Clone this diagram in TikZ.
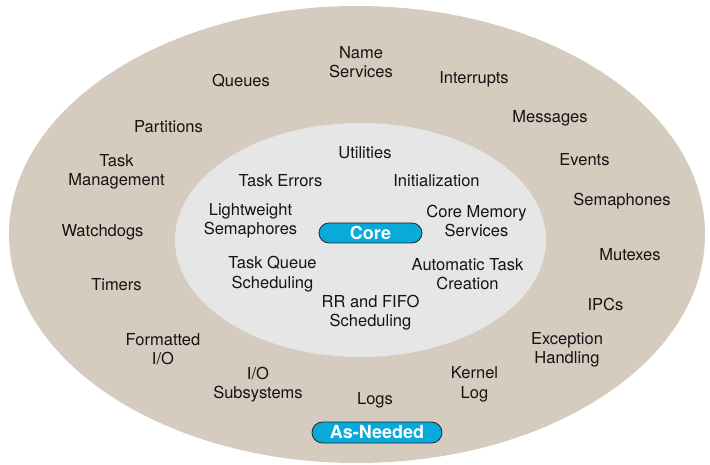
\documentclass[tikz,border=0pt]{standalone}
\usepackage{fontspec}
\setmainfont{TeX Gyre Heros}
\usetikzlibrary{shapes.misc}
\definecolor{outerfill}{RGB}{213,203,191}
\definecolor{innerfill}{RGB}{230,230,230}
\definecolor{pillfill}{RGB}{8,170,218}
\definecolor{txt}{RGB}{20,20,20}
\tikzset{
  lbl/.style={align=center, text=txt, font=\fontsize{16.5}{19.5}\selectfont, inner sep=0pt},
  pill/.style={rounded rectangle, draw=black!85, line width=0.8pt, fill=pillfill, text=white,
     font=\bfseries\fontsize{18}{20}\selectfont, inner sep=0pt, align=center}
}
\begin{document}
\begin{tikzpicture}[x=1pt,y=-1pt]
\useasboundingbox (0,0) rectangle (710,465);
% rings
\fill[outerfill] (357,234.5) ellipse [x radius=348, y radius=228.5];
\fill[innerfill] (360.5,240) ellipse [x radius=185.5, y radius=117];
% outer ring items
\node[lbl] (name) at (361,62) {Name\\Services};
\node[lbl] (queues) at (241,81) {Queues};
\node[lbl] (interrupts) at (474,79) {Interrupts};
\node[lbl] (partitions) at (168.5,127) {Partitions};
\node[lbl] (messages) at (550,118) {Messages};
\node[lbl] (taskmgmt) at (116.5,172) {Task\\Management};
\node[lbl] (events) at (584.5,160) {Events};
\node[lbl] (semaphones) at (622,201) {Semaphones};
\node[lbl] (watchdogs) at (102.5,232) {Watchdogs};
\node[lbl] (mutexes) at (630,255) {Mutexes};
\node[lbl] (timers) at (116.5,285) {Timers};
\node[lbl] (ipcs) at (605.5,304) {IPCs};
\node[lbl] (formatted) at (163,349) {Formatted\\I/O};
\node[lbl] (exception) at (567,350) {Exception\\Handling};
\node[lbl] (iosub) at (258,384.5) {I/O\\Subsystems};
\node[lbl] (kernellog) at (474.5,384.5) {Kernel\\Log};
\node[lbl] (logs) at (375,400) {Logs};
% inner items
\node[lbl] (utilities) at (365,153) {Utilities};
\node[lbl] (taskerr) at (280.5,181) {Task Errors};
\node[lbl] (init) at (436.5,181) {Initialization};
\node[lbl] (lwsem) at (250.5,221) {Lightweight\\Semaphores};
\node[lbl] (coremem) at (476.5,221) {Core Memory\\Services};
\node[lbl] (tqs) at (272.5,274) {Task Queue\\Scheduling};
\node[lbl] (autotask) at (467.5,274) {Automatic Task\\Creation};
\node[lbl] (rrfifo) at (370.5,312.5) {RR and FIFO\\Scheduling};
% pills
\node[pill, minimum width=103, minimum height=20] (core) at (370.5,233) {Core};
\node[pill, minimum width=130, minimum height=21] (asneeded) at (377,432.5) {As-Needed};
\end{tikzpicture}
\end{document}
